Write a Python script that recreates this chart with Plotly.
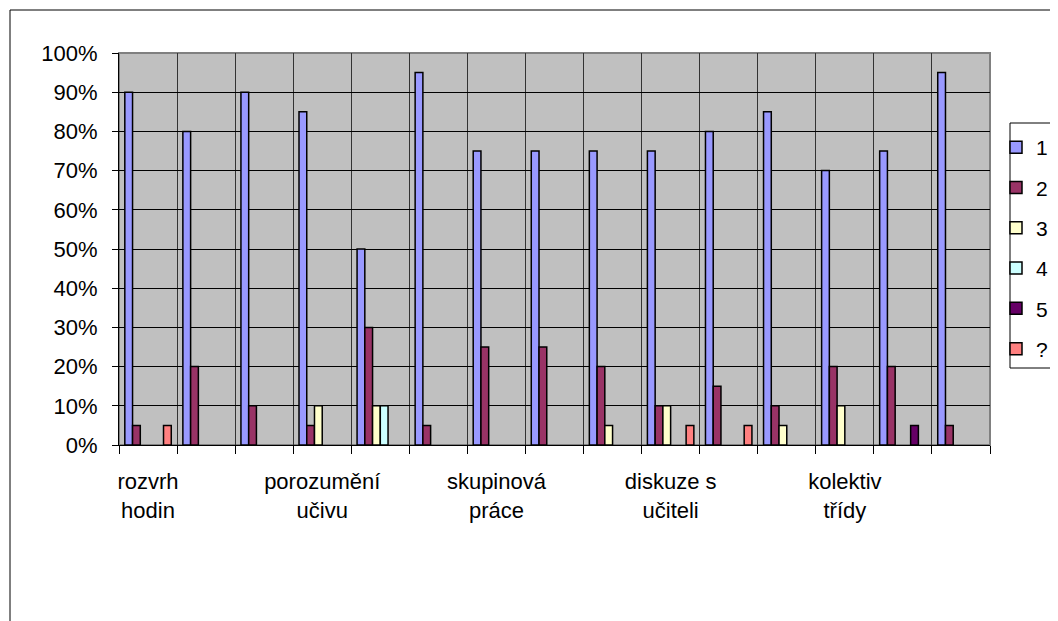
import plotly.graph_objects as go

categories = ["rozvrh hodin", "", "", "porozumění učivu", "", "", "skupinová práce", "", "",
              "diskuze s učiteli", "", "", "kolektiv třídy", "", ""]
series_names = ["1", "2", "3", "4", "5", "?"]
s1 = [90, 80, 90, 85, 50, 95, 75, 75, 75, 75, 80, 85, 70, 75, 95]
s2 = [5, 20, 10, 5, 30, 5, 25, 25, 20, 10, 15, 10, 20, 20, 5]
s3 = [0, 0, 0, 10, 10, 0, 0, 0, 5, 10, 0, 5, 10, 0, 0]
s4 = [0, 0, 0, 0, 10, 0, 0, 0, 0, 0, 0, 0, 0, 0, 0]
s5 = [0, 0, 0, 0, 0, 0, 0, 0, 0, 0, 0, 0, 0, 5, 0]
s6 = [5, 0, 0, 0, 0, 0, 0, 0, 0, 5, 5, 0, 0, 0, 0]
colors = ["#9999FF", "#993366", "#FFFFCC", "#CCFFFF", "#660066", "#FF8080"]

# the page body adds an 8px offset; work in page pixels and convert
OFF = 8
W, H = 1058 - OFF, 621 - OFF
L, R, T, B = 119 - OFF, 990 - OFF, 53 - OFF, 445 - OFF
pw, ph = R - L, B - T

def px(x):
    return (x - OFF - L) / pw

def py(y):
    return (B - (y - OFF)) / ph

FONT = "Liberation Sans, Arial, sans-serif"
xs = list(range(len(categories)))

fig = go.Figure()
for i, (name, vals) in enumerate(zip(series_names, [s1, s2, s3, s4, s5, s6])):
    fig.add_trace(go.Bar(
        x=xs, y=[v if v else None for v in vals], name=name,
        marker=dict(color=colors[i], line=dict(color="black", width=1.5)),
        legendgroup=name,
    ))

tickvals = [i for i, c in enumerate(categories) if c]
ticktext = ["<br>".join(c.rsplit(" ", 1)) for c in categories if c]

fig.update_layout(
    width=W, height=H,
    margin=dict(l=L, r=W - R, t=T, b=H - B, autoexpand=False),
    paper_bgcolor="white", plot_bgcolor="#C0C0C0",
    barmode="group", bargap=0.2, bargroupgap=0,
    font=dict(family=FONT, size=21, color="black"),
    showlegend=True,
    legend=dict(
        x=px(996), y=py(127), xanchor="left", yanchor="top",
        bgcolor="rgba(0,0,0,0)", borderwidth=0,
        font=dict(family=FONT, size=21, color="black"),
        traceorder="grouped", tracegroupgap=10,
    ),
    xaxis=dict(
        range=[-0.5, len(categories) - 0.5],
        tickmode="array", tickvals=tickvals, ticktext=ticktext,
        ticks="", showgrid=False, zeroline=False,
        showline=True, linecolor="black", linewidth=1,
        ticklabelstandoff=17,
        tickfont=dict(family=FONT, size=22, color="black"),
        minor=dict(tickmode="array", tickvals=[i - 0.5 for i in range(len(categories) + 1)],
                   ticks="outside", ticklen=8, tickcolor="black", tickwidth=1,
                   showgrid=True, gridcolor="#333333", gridwidth=1),
    ),
    yaxis=dict(
        range=[0, 100], dtick=10, ticksuffix="%",
        ticks="outside", ticklen=6, tickcolor="black",
        ticklabelstandoff=10,
        showgrid=True, gridcolor="black", gridwidth=1, zeroline=False,
        showline=True, linecolor="black", linewidth=1,
        tickfont=dict(family=FONT, size=22, color="black"),
    ),
    shapes=[
        dict(type="rect", xref="paper", yref="paper", x0=0, x1=1, y0=0, y1=1,
             line=dict(color="#808080", width=2), layer="below"),
        dict(type="rect", xref="paper", yref="paper", x0=px(1010), x1=px(1075),
             y0=py(368), y1=py(123), line=dict(color="black", width=1),
             fillcolor="white", layer="below"),
        dict(type="rect", xref="paper", yref="paper", x0=px(10), x1=px(1075),
             y0=py(640), y1=py(10), line=dict(color="black", width=1), layer="below"),
    ],
)

fig.write_html("out.html")
